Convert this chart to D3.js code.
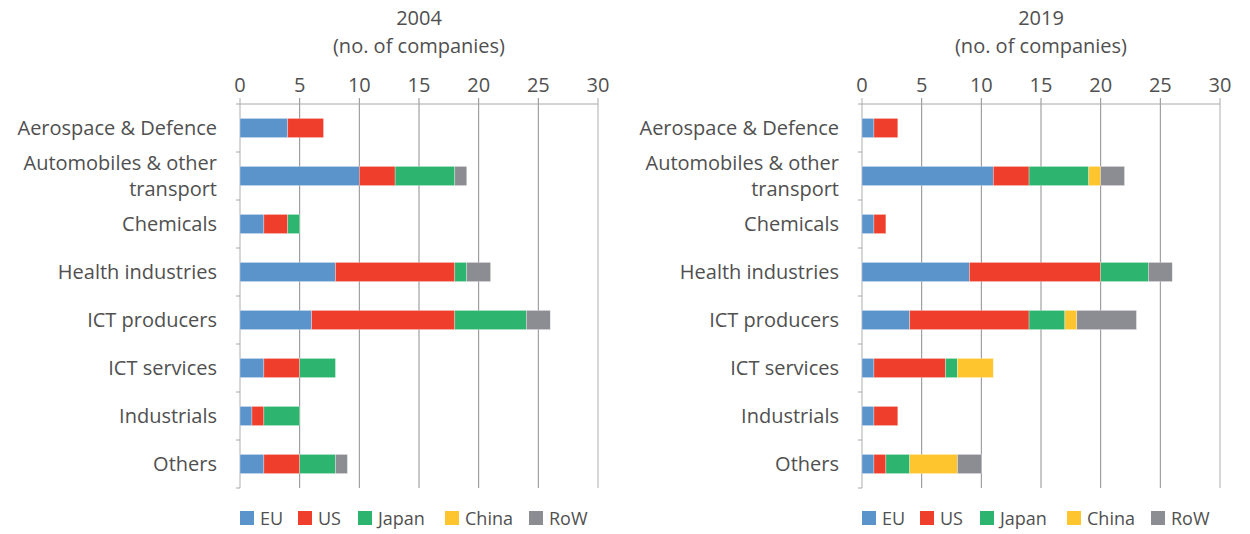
<!DOCTYPE html>
<html>
<head>
  <meta charset="utf-8">
  <script src="https://d3js.org/d3.v7.min.js"></script>
  <style>
  body { margin:0; background:#fff; }
  text { font-family: "Open Sans", "DejaVu Sans", sans-serif; fill:#505050; }
  </style>
</head>
<body>
<script>

  var sectors = ["Aerospace & Defence", "Automobiles & other transport", "Chemicals",
    "Health industries", "ICT producers", "ICT services", "Industrials", "Others"];
  var regions = ["EU", "US", "Japan", "China", "RoW"];
  var colors = ["#5b93cb", "#ef3e2c", "#2db46f", "#fec52e", "#8c8d92"];
  var ticks = [0, 5, 10, 15, 20, 25, 30];

  // values per sector: EU, US, Japan, China, RoW
  var eu2004    = [4, 10, 2, 8, 6, 2, 1, 2];
  var us2004    = [3, 3, 2, 10, 12, 3, 1, 3];
  var japan2004 = [0, 5, 1, 1, 6, 3, 3, 3];
  var china2004 = [0, 0, 0, 0, 0, 0, 0, 0];
  var row2004   = [0, 1, 0, 2, 2, 0, 0, 1];

  var eu2019    = [1, 11, 1, 9, 4, 1, 1, 1];
  var us2019    = [2, 3, 1, 11, 10, 6, 2, 1];
  var japan2019 = [0, 5, 0, 4, 3, 1, 0, 2];
  var china2019 = [0, 1, 0, 0, 1, 3, 0, 4];
  var row2019   = [0, 2, 0, 2, 5, 0, 0, 2];

  function table(cols) {
    return sectors.map((s, i) => {
      var o = {sector: s};
      regions.forEach((r, j) => { o[r] = cols[j][i]; });
      return o;
    });
  }

  var svg = d3.select("body").append("svg")
    .attr("width", 1250)
    .attr("height", 534);

  function panel(left, title, data) {
    var top = 104, bottom = 488, width = 358;
    var x = d3.scaleLinear().domain([0, 30]).range([left, left + width]);
    var y = d3.scaleBand().domain(sectors).range([top, bottom]).paddingInner(0.6).paddingOuter(0.3);
    var g = svg.append("g");

    g.append("text").attr("x", x(15)).attr("y", 25).attr("text-anchor", "middle")
      .style("font-size", "20px").text(title);
    g.append("text").attr("x", x(15)).attr("y", 53).attr("text-anchor", "middle")
      .style("font-size", "20px").text("(no. of companies)");

    // grid
    g.selectAll(".grid").data(ticks).enter().append("line")
      .attr("x1", d => x(d)).attr("x2", d => x(d))
      .attr("y1", top - 6).attr("y2", bottom)
      .attr("stroke", d => d === 0 || d === 30 ? "#c8c8cc" : "#8e8e92")
      .attr("stroke-width", d => d === 0 || d === 30 ? 1.5 : 1);

    g.append("line").attr("x1", x(0)).attr("x2", x(30)).attr("y1", top).attr("y2", top)
      .attr("stroke", "#a8a8ac");

    g.selectAll(".tl").data(ticks).enter().append("text")
      .attr("x", d => x(d)).attr("y", top - 12).attr("text-anchor", "middle")
      .style("font-size", "20px").text(d => d);

    // y ticks at band boundaries
    d3.range(sectors.length + 1).forEach(i => {
      var yy = top + i * (bottom - top) / sectors.length;
      g.append("line").attr("x1", x(0) - 4).attr("x2", x(0)).attr("y1", yy).attr("y2", yy)
        .attr("stroke", "#a8a8ac");
    });

    var stack = d3.stack().keys(regions)(data);
    g.selectAll(".layer").data(stack).enter().append("g")
      .attr("fill", (d, i) => colors[i])
      .selectAll("rect").data(d => d).enter().append("rect")
      .attr("x", d => x(d[0]))
      .attr("width", d => x(d[1]) - x(d[0]))
      .attr("y", d => y(d.data.sector))
      .attr("height", y.bandwidth())
      .attr("stroke", "#fff").attr("stroke-opacity", 0.5).attr("stroke-width", 0.6);

    // category labels
    sectors.forEach(s => {
      var cy = y(s) + y.bandwidth() / 2;
      var t = g.append("text").attr("x", x(0) - 23).attr("text-anchor", "end")
        .style("font-size", "20px");
      if (s === "Automobiles & other transport") {
        t.append("tspan").attr("x", x(0) - 23).attr("y", cy - 6).text("Automobiles & other");
        t.append("tspan").attr("x", x(0) - 23).attr("y", cy + 20).text("transport");
      } else {
        t.attr("y", cy + 7).text(s);
      }
    });

    // legend
    var lx = [0, 58, 118, 205, 289];
    var lg = g.selectAll(".lg").data(regions).enter().append("g")
      .attr("transform", (d, i) => "translate(" + (left + lx[i]) + ",511)");
    lg.append("rect").attr("width", 14).attr("height", 14).attr("fill", (d, i) => colors[i]);
    lg.append("text").attr("x", 20).attr("y", 14).style("font-size", "18px").text(d => d);
  }

  panel(240, "2004", table([eu2004, us2004, japan2004, china2004, row2004]));
  panel(862, "2019", table([eu2019, us2019, japan2019, china2019, row2019]));

</script>
</body>
</html>
